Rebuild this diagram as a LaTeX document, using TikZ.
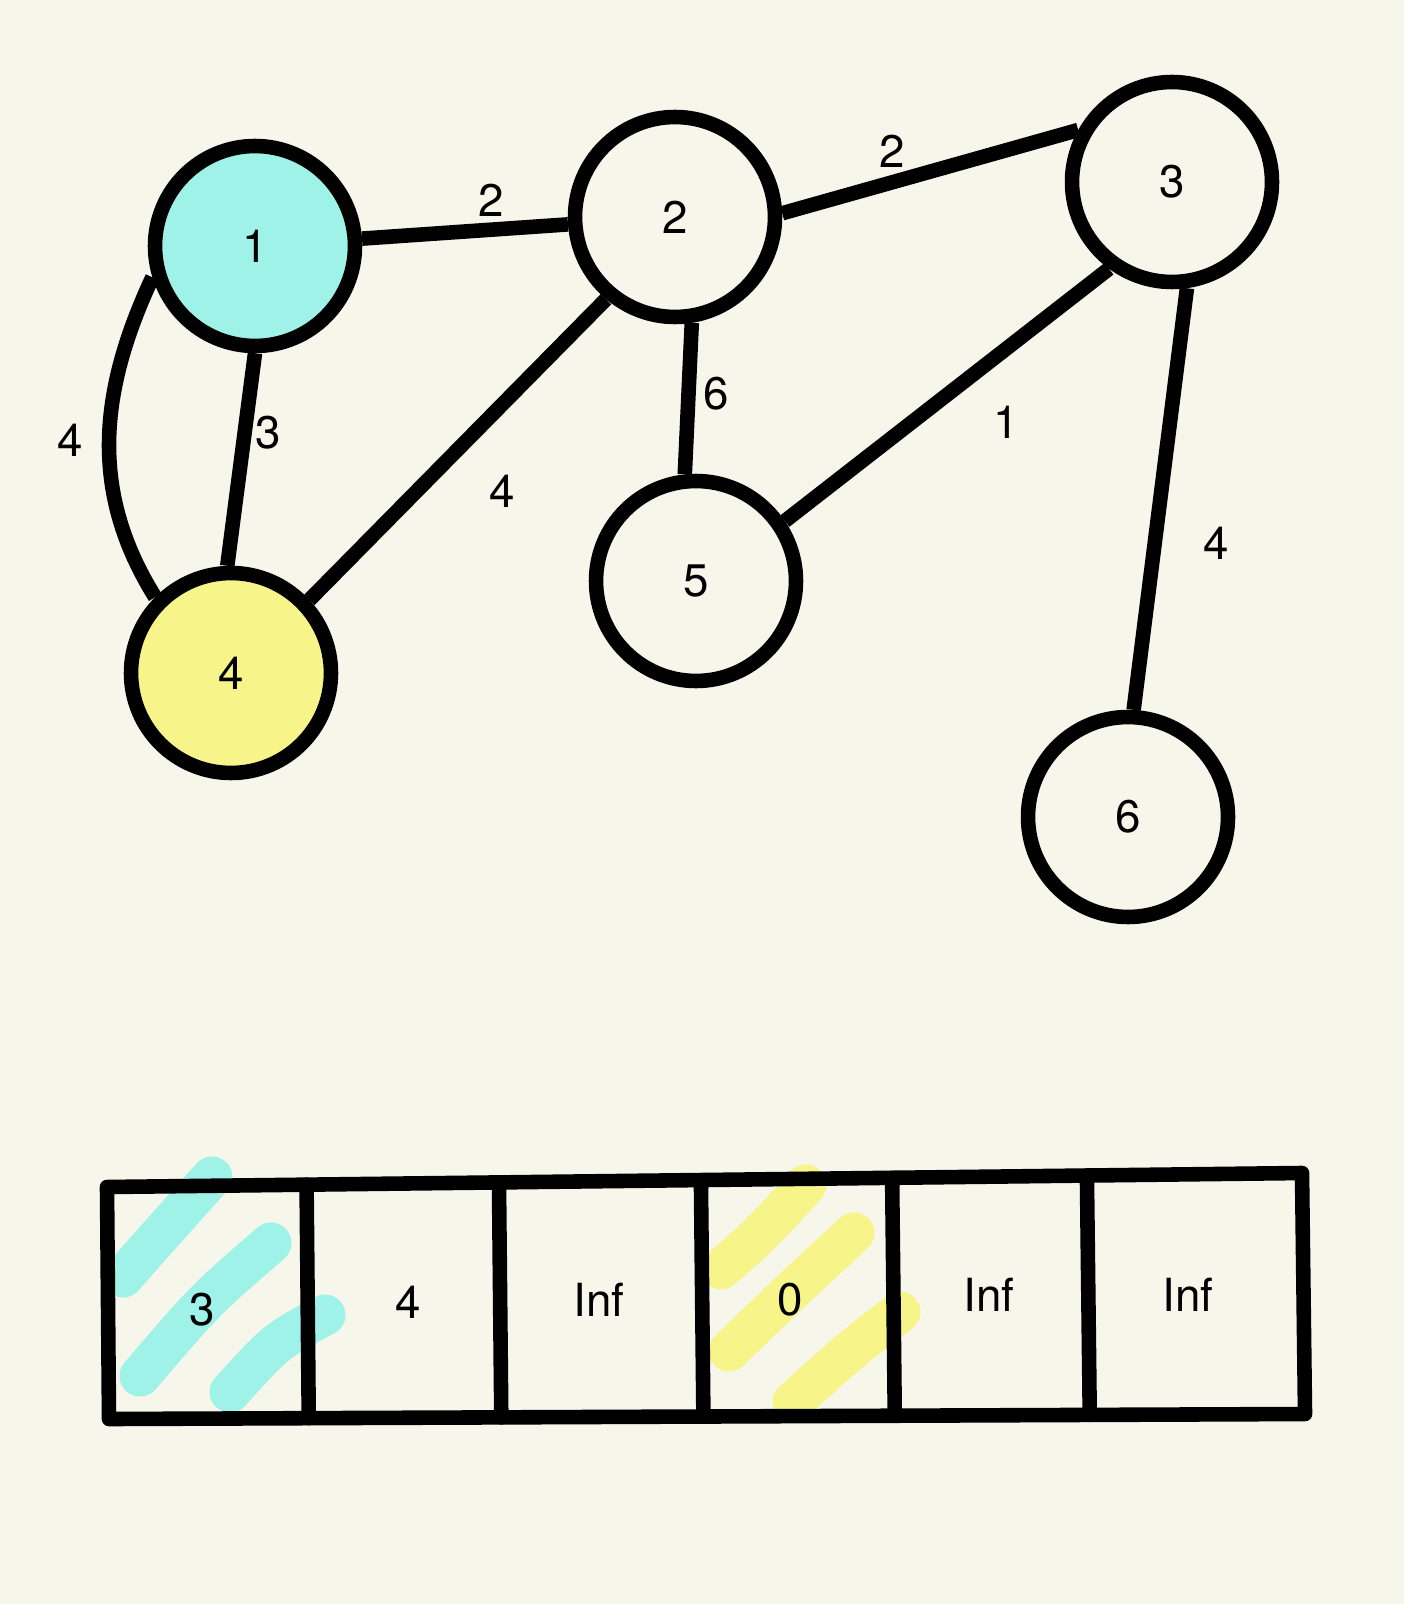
\documentclass[tikz,border=0pt]{standalone}
\usepackage{fontspec}
\setmainfont{TeX Gyre Heros}
\usetikzlibrary{calc}

\definecolor{paper}{RGB}{247,246,235}
\definecolor{aqua}{RGB}{158,242,232}
\definecolor{lemon}{RGB}{247,245,138}
\newcommand{\graphfont}{\fontsize{26}{30}\selectfont}

\tikzset{
  vertex/.style={circle, draw, line width=8.3pt, minimum size=4cm, inner sep=0pt, font=\graphfont},
  link/.style={line width=8.3pt},
  weight/.style={inner sep=1pt, font=\graphfont},
  marker/.style={line width=0.82cm, line cap=round, line join=round},
  cellbox/.style={line width=8.3pt, line cap=round, line join=round},
  cell/.style={inner sep=1pt, font=\graphfont}
}

\begin{document}
\begin{tikzpicture}[x=0.02cm, y=-0.02cm]
  % page and background
  \fill[paper] (0,0) rectangle (1404,1604);
  \useasboundingbox (0,0) rectangle (1404,1604);

  % Vertices of the graph
  \node[vertex, fill=aqua]  (n1) at (255,246) {1};
  \node[vertex]             (n2) at (675,217) {2};
  \node[vertex]             (n3) at (1172,182) {3};
  \node[vertex, fill=lemon] (n4) at (231,673) {4};
  \node[vertex]             (n5) at (696,581) {5};
  \node[vertex]             (n6) at (1128,817) {6};

  % Edges
  \draw[link] (n1) -- (n2);
  \draw[link] (n2.2) -- (n3.151);
  \draw[link] (n1.270) -- (n4.92);
  \draw[link] (n1.197) to[out=245, in=122] (n4.135);
  \draw[link] (n2.230) -- (n4.43);
  \draw[link] (n2.279) -- (n5.96);
  \draw[link] (n3.234) -- (n5.34);
  \draw[link] (n3.278) -- (n6.87);

  % Edge weights
  \node[weight] (w12)  at (491,200)  {2};
  \node[weight] (w23)  at (892,151)  {2};
  \node[weight] (w14a) at (70,440)   {4};
  \node[weight] (w14b) at (268,433)  {3};
  \node[weight] (w24)  at (502,491)  {4};
  \node[weight] (w25)  at (716,394)  {6};
  \node[weight] (w35)  at (1006,422) {1};
  \node[weight] (w36)  at (1216,543) {4};

  % Highlighter marks under the array
  \draw[marker, aqua] (123,1277) .. controls (160,1235) .. (212,1177);
  \draw[marker, aqua] (140,1376) .. controls (205,1300) .. (271,1243);
  \draw[marker, aqua] (230,1392) .. controls (276,1341) .. (325,1315);
  \draw[marker, lemon] (721,1269) .. controls (760,1235) .. (806,1185);
  \draw[marker, lemon] (729,1351) .. controls (788,1294) .. (854,1233);
  \draw[marker, lemon] (793,1402) .. controls (849,1351) .. (900,1312);

  % Distance array
  \coordinate (tl) at (107,1187);
  \coordinate (tr) at (1302,1173);
  \coordinate (br) at (1305,1414);
  \coordinate (bl) at (109,1419);
  \draw[cellbox] (tl) -- (tr) -- (br) -- (bl) -- cycle;
  \foreach \t in {0.167,0.328,0.497,0.657,0.820} {
    \draw[cellbox] ($(tl)!\t!(tr)$) -- ($(bl)!\t!(br)$);
  }

  \node[cell] (d1) at (202,1310) {3};
  \node[cell] (d2) at (408,1302) {4};
  \node[cell] (d3) at (599,1300) {Inf};
  \node[cell] (d4) at (790,1300) {0};
  \node[cell] (d5) at (989,1295) {Inf};
  \node[cell] (d6) at (1188,1295) {Inf};
\end{tikzpicture}
\end{document}
